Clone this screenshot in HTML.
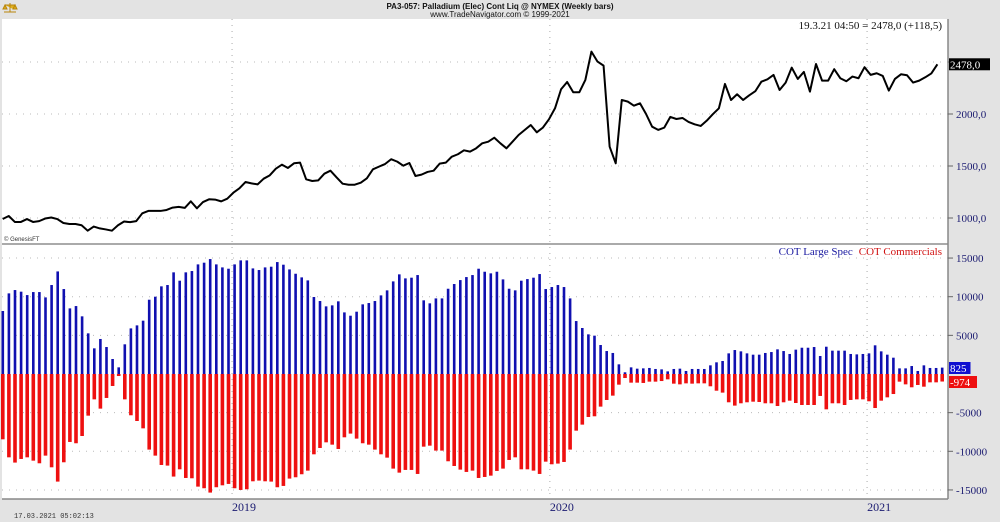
<!DOCTYPE html>
<html><head><meta charset="utf-8"><style>
body{margin:0;width:1000px;height:522px;overflow:hidden;background:#e3e3e3;font-family:"Liberation Sans",sans-serif}
svg{position:absolute;left:0;top:0}
</style></head><body>
<svg width="1000" height="522">
<rect x="0" y="0" width="1000" height="522" fill="#e3e3e3"/>
<rect x="2" y="19" width="946" height="480" fill="#fff"/>
<g>
<text x="500" y="9" font-size="8" font-weight="bold" text-anchor="middle" fill="#111">PA3-057:  Palladium (Elec) Cont Liq @ NYMEX  (Weekly bars)</text>
<text x="500" y="17" font-size="8" text-anchor="middle" fill="#111">www.TradeNavigator.com © 1999-2021</text>
</g>
<g><path d="M4 12 L16 12 M10 3 L10 12 M5 5 L15 5 L13 9 M5 5 L3 9 L7 9 Z M15 5 L17 9 L13 9 Z" stroke="#b8860b" fill="#e0b020" stroke-width="1"/></g>
<g id="grid"></g>
<line x1="2" y1="244" x2="948" y2="244" stroke="#aaa" stroke-width="2"/>
<line x1="948" y1="19" x2="948" y2="499" stroke="#888" stroke-width="1.5"/>
<line x1="2" y1="499" x2="948" y2="499" stroke="#888" stroke-width="1.5"/>
<g id="bars"></g>
<g id="price"></g>
<g id="axes"></g>
<text x="4" y="241" font-size="6" fill="#333">© GenesisFT</text>
<text x="942" y="29" font-size="11" font-family="Liberation Serif" text-anchor="end" fill="#111">19.3.21 04:50 = 2478,0 (+118,5)</text>
<text x="942" y="255" font-size="11" font-family="Liberation Serif" text-anchor="end"><tspan fill="#1a1aa0">COT Large Spec</tspan><tspan fill="#d01010" dx="6">COT Commercials</tspan></text>
<text x="14" y="518" font-size="7" font-family="Liberation Mono" fill="#333">17.03.2021 05:02:13</text>
</svg>
<script>
const largeSpec=[8150,10430,10860,10650,10210,10600,10600,9910,11510,13270,10990,8490,8790,7460,5260,3320,4530,3490,1940,860,3840,5900,6290,6900,9610,10000,11340,11510,13150,12070,13150,13320,14180,14400,14870,14180,13790,13620,14180,14700,14700,13660,13450,13790,13880,14480,14140,13530,12970,12500,12110,9960,9440,8750,
8880,9400,7970,7540,8060,9010,9180,9440,10170,10820,11980,12890,12370,12460,12800,9530,9140,9780,9780,11030,11640,12150,12540,12800,13620,13230,13020,13230,12240,11030,10820,12070,12280,12460,12930,10990,11250,11510,11250,9780,6850,5950,5130,4960,3750,2970,2720,1250,220,860,690,730,
780,650,600,340,650,690,390,650,650,650,1120,1510,1680,2670,3100,2930,2670,2500,2500,2720,2840,3190,2970,2590,3150,3400,3400,3490,2330,3530,3020,3020,3020,2590,2540,2590,2670,3710,2930,2500,2110,730,730,1030,390,1120,780,780,825];
const commercials=[-8450,-10780,-11460,-10990,-10780,-11210,-11550,-10560,-12070,-13920,-11420,-8790,-8960,-8020,-5390,-3280,-4480,-3100,-1550,-260,-3280,-5340,-6080,-7030,-9780,-10560,-11770,-11850,-13270,-12330,-13450,-13490,-14570,-14780,-15340,-14650,-14400,-14220,-14780,-15000,-14910,-13880,-13790,-13880,-13920,-14650,-14480,-13530,-13360,-12970,-12500,-10390,-9570,-8840,
-9140,-9700,-8190,-7710,-8360,-8960,-9140,-9780,-10390,-10820,-12240,-12760,-12410,-12410,-12930,-9400,-9270,-9910,-9910,-11290,-11900,-12370,-12670,-12500,-13450,-13320,-13150,-12540,-12240,-11120,-10780,-12330,-12330,-12500,-12930,-11340,-11680,-11590,-11380,-9780,-7330,-6550,-5560,-5470,-4220,-3360,-2800,-1380,-520,-1120,-1120,-1160,
-990,-990,-910,-690,-1250,-1340,-1210,-1250,-1210,-1210,-1590,-2160,-2410,-3660,-4090,-3790,-3660,-3580,-3620,-3790,-3790,-4140,-3660,-3450,-3750,-4010,-4010,-4010,-2840,-4570,-3790,-3790,-4010,-3360,-3280,-3280,-3530,-4400,-3450,-3020,-2590,-990,-1340,-1720,-1420,-1640,-1080,-1080,-974];
const price=[990,1019,962,962,990,962,970,995,1005,990,952,942,942,930,878,918,900,890,878,930,966,960,970,1045,1068,1068,1068,1077,1100,1107,1097,1160,1093,1153,1180,1177,1160,1186,1243,1285,1346,1333,1323,1378,1410,1474,1513,1481,1526,1532,1372,1356,1362,1426,
1455,1391,1330,1320,1320,1340,1382,1468,1494,1519,1565,1542,1503,1529,1404,1417,1443,1455,1523,1532,1590,1613,1651,1638,1670,1718,1734,1772,1718,1670,1734,1798,1846,1894,1824,1869,1949,2055,2238,2308,2209,2209,2328,2600,2504,2465,1686,1526,2135,2119,2080,2103,2000,
1878,1847,1869,1972,1952,1962,1924,1901,1885,1936,1998,2055,2289,2135,2190,2135,2180,2219,2311,2334,2376,2231,2302,2446,2337,2405,2215,2481,2321,2321,2431,2344,2315,2360,2344,2450,2376,2392,2366,2225,2337,2382,2373,2302,2321,2353,2390,2478];
const priceTicks=[1000,1500,2000,2500];
const priceTickLabels=["1000,0","1500,0","2000,0",""];
const cotTicks=[15000,10000,5000,-5000,-10000,-15000];
const years=["2019","2020","2021"];
const yearIdx=[37.6,89.7,141.7];

const NS="http://www.w3.org/2000/svg";
function mk(t,a,p){const e=document.createElementNS(NS,t);for(const k in a)e.setAttribute(k,a[k]);p.appendChild(e);return e;}
const xOf=i=>2.7+i*6.1;
const yP=v=>218-(v-1000)*52/500;
const yC=v=>374-v*7.73/1000;
const grid=document.getElementById('grid'),bars=document.getElementById('bars'),pr=document.getElementById('price'),ax=document.getElementById('axes');
priceTicks.forEach((t,k)=>{
 const l=mk('line',{x1:2,x2:948,y1:yP(t),y2:yP(t),stroke:'#bbb','stroke-dasharray':'1 6'},grid);
 
 
 if(priceTickLabels[k]){const tx=mk('text',{x:956,y:yP(t)+4,'font-size':11,'font-family':'Liberation Serif',fill:'#1a1a70'},ax);tx.textContent=priceTickLabels[k];
 
 }
 const tk=mk('line',{x1:948,x2:953,y1:yP(t),y2:yP(t),stroke:'#666'},ax);
 
 
});
cotTicks.forEach(t=>{
 const l=mk('line',{x1:2,x2:948,y1:yC(t),y2:yC(t),stroke:'#bbb','stroke-dasharray':'1 6'},grid);
 
 
 const tx=mk('text',{x:956,y:yC(t)+4,'font-size':11,'font-family':'Liberation Serif',fill:'#1a1a70'},ax);tx.textContent=t;
 
 
 const tk=mk('line',{x1:948,x2:953,y1:yC(t),y2:yC(t),stroke:'#666'},ax);
 
 
});
years.forEach((y,k)=>{
 const x=xOf(yearIdx[k]);
 const l=mk('line',{x1:x,x2:x,y1:19,y2:499,stroke:'#aaa','stroke-dasharray':'1 5'},grid);
 
 
 const tx=mk('text',{x:x,y:511,'font-size':12,'font-family':'Liberation Serif',fill:'#1a1a70'},ax);tx.textContent=y;
 
 
});
largeSpec.forEach((v,i)=>{
 const r=mk('rect',{x:xOf(i)-1.2,y:yC(v),width:2.6,height:374-yC(v),fill:'#1010b0'},bars);
 
 
});
commercials.forEach((v,i)=>{
 const r=mk('rect',{x:xOf(i)-1.7,y:374,width:3.6,height:yC(v)-374,fill:'#ee1010'},bars);
 
 
});
const pts=price.map((v,i)=>xOf(i)*0.995+','+yP(v)).join(' ');
const pl=mk('polyline',{points:pts,fill:'none',stroke:'#000','stroke-width':2,'stroke-linejoin':'round'},pr);


function tag(y,txt,bg,name){
 const r=mk('rect',{x:949,y:y-6,width:txt.length*6.5+2,height:12,fill:bg},ax);
 
 
 const t=mk('text',{x:950,y:y+4,'font-size':11,'font-family':'Liberation Serif',fill:'#fff'},ax);t.textContent=txt;
 
 
}
tag(yP(price[price.length-1]),"2478,0","#000","price-last-tag");
tag(368,String(largeSpec[largeSpec.length-1]),"#1010d0","large-spec-last-tag");
tag(382,String(commercials[commercials.length-1]),"#ee1010","commercials-last-tag");
</script>
</body></html>
